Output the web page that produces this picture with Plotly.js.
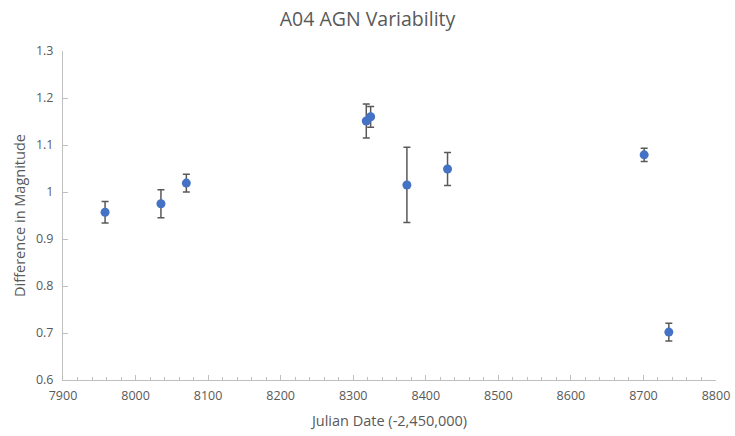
<!DOCTYPE html>
<html>
<head>
<meta charset="utf-8">
<script src="https://cdn.plot.ly/plotly-3.0.1.min.js"></script>
<style>html,body{margin:0;padding:0;background:#fff;}#chart{width:735px;height:436px;}</style>
</head>
<body>
<div id="chart"></div>
<script>
const julianDate = [7958, 8035, 8070, 8318, 8324, 8374, 8430, 8701, 8735];
const magnitudeDiff = [0.957, 0.975, 1.019, 1.151, 1.160, 1.015, 1.049, 1.079, 0.702];
const magnitudeErr = [0.023, 0.030, 0.019, 0.036, 0.022, 0.080, 0.035, 0.014, 0.019];
const xTickValues = [7900, 8000, 8100, 8200, 8300, 8400, 8500, 8600, 8700, 8800];
const yTickValues = [0.6, 0.7, 0.8, 0.9, 1, 1.1, 1.2, 1.3];
const yTickLabels = ['0.6', '0.7', '0.8', '0.9', '1', '1.1', '1.2', '1.3'];

const fontFam = 'Open Sans, Liberation Sans, sans-serif';
const trace = {
  x: julianDate,
  y: magnitudeDiff,
  type: 'scatter',
  mode: 'markers',
  marker: {color: '#4472C4', size: 9},
  error_y: {type: 'data', array: magnitudeErr, visible: true, color: '#595959', thickness: 1.5, width: 3.5},
  hoverinfo: 'x+y'
};
const layout = {
  width: 735, height: 436,
  margin: {l: 63, r: 19, t: 51, b: 56, pad: 0},
  paper_bgcolor: '#fff', plot_bgcolor: '#fff',
  showlegend: false,
  title: {text: 'A04 AGN Variability', x: 0.5, xanchor: 'center', y: 0.955, yanchor: 'middle',
          font: {family: fontFam, size: 19.5, color: '#595959'}},
  xaxis: {
    range: [7900, 8800], tickvals: xTickValues, ticktext: xTickValues.map(String),
    showgrid: false, zeroline: false, showline: true, linecolor: '#bfbfbf', linewidth: 1,
    ticks: 'inside', ticklen: 5, tickcolor: '#bfbfbf', tickwidth: 1,
    minor: {dtick: 20, tick0: 7900, ticks: 'inside', ticklen: 3, tickcolor: '#bfbfbf', showgrid: false},
    tickfont: {family: fontFam, size: 12.5, color: '#595959'},
    ticklabelstandoff: 4,
    title: {text: 'Julian Date (-2,450,000)', standoff: 12, font: {family: fontFam, size: 14.5, color: '#595959'}}
  },
  yaxis: {
    range: [0.6, 1.3], tickvals: yTickValues, ticktext: yTickLabels,
    showgrid: false, zeroline: false, showline: true, linecolor: '#bfbfbf', linewidth: 1,
    ticks: 'inside', ticklen: 5, tickcolor: '#bfbfbf', tickwidth: 1,
    tickfont: {family: fontFam, size: 12.5, color: '#595959'},
    ticklabelstandoff: 6,
    title: {text: 'Difference in Magnitude', standoff: 6, font: {family: fontFam, size: 14.5, color: '#595959'}}
  }
};
Plotly.newPlot('chart', [trace], layout, {displayModeBar: false, staticPlot: true});
</script>
</body>
</html>
